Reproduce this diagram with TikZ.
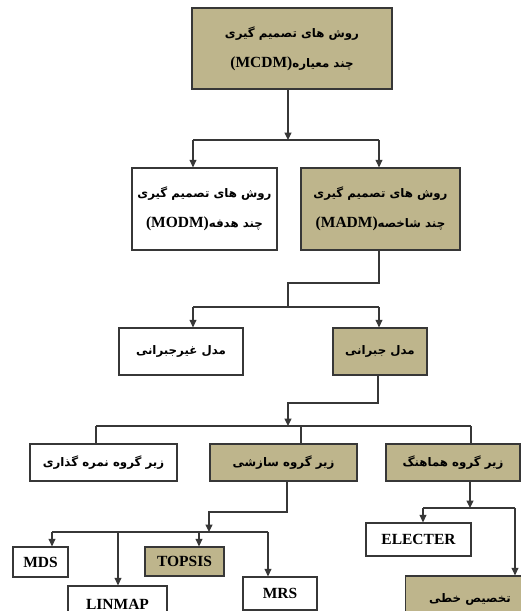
\documentclass[tikz,border=0pt]{standalone}
\usepackage{fontspec}
\setmainfont{Liberation Serif}
\newfontfamily\fa[Script=Arabic]{DejaVu Sans}
\TeXXeTstate=1
\usetikzlibrary{arrows.meta}
\definecolor{boxfill}{RGB}{190,181,140}
\definecolor{edgegray}{RGB}{55,55,55}
\newcommand{\fatext}[1]{{\fa\fontsize{11.8}{30}\selectfont\beginR #1\endR}}

\begin{document}
\begin{tikzpicture}[x=1pt,y=-1pt,
  every node/.style={font=\bfseries\fontsize{15.5}{30}\selectfont},
  box/.style={draw=edgegray, line width=1.3pt, fill=white, align=center, inner sep=0pt},
  gbox/.style={box, fill=boxfill},
  link/.style={draw=edgegray, line width=1.1pt},
  arr/.style={link, -{Triangle[length=7.5pt,width=7pt]}}]
 	\clip (0,0) rectangle (521,611);
 	\fill [white] (0,0) rectangle (521,611);
 	\node [gbox, minimum width=200, minimum height=81] (mcdm) at (292,48.5) {\fatext{روش های تصمیم گیری}\\(MCDM)\fatext{چند معیاره}};
 	\node [box, minimum width=145, minimum height=82] (modm) at (204.5,209) {\fatext{روش های تصمیم گیری}\\(MODM)\fatext{چند هدفه}};
 	\node [gbox, minimum width=159, minimum height=82] (madm) at (380.5,209) {\fatext{روش های تصمیم گیری}\\(MADM)\fatext{چند شاخصه}};
 	\node [box, minimum width=124, minimum height=47] (noncomp) at (181,351.5) {\fatext{مدل غیرجبرانی}};
 	\node [gbox, minimum width=94, minimum height=47] (comp) at (380,351.5) {\fatext{مدل جبرانی}};
 	\node [box, minimum width=147, minimum height=37] (score) at (103.5,462.5) {\fatext{زیر گروه نمره گذاری}};
 	\node [gbox, minimum width=147, minimum height=37] (compro) at (283.5,462.5) {\fatext{زیر گروه سازشی}};
 	\node [gbox, minimum width=134, minimum height=37] (coord) at (453,462.5) {\fatext{زیر گروه هماهنگ}};
 	\node [box, minimum width=55, minimum height=30] (mds) at (40.5,562) {MDS};
 	\node [gbox, minimum width=79, minimum height=29] (topsis) at (184.5,561.5) {TOPSIS};
 	\node [box, minimum width=99, minimum height=36] (linmap) at (117.5,604) {LINMAP};
 	\node [box, minimum width=74, minimum height=33] (mrs) at (280,593.5) {MRS};
 	\node [box, minimum width=105, minimum height=33] (electer) at (418.5,539.5) {ELECTER};
 	\node [gbox, minimum width=129, minimum height=46] (linear) at (470,599) {\fatext{تخصیص خطی}};
 	\coordinate (j1) at (288,140);
 	\draw [arr] (mcdm.south -| j1) -- (j1);
 	\draw [link] (193,140) -- (379,140);
 	\draw [arr] (193,140) -- (modm.north -| 193,0);
 	\draw [arr] (379,140) -- (madm.north -| 379,0);
 	\coordinate (j2) at (288,307);
 	\draw [link] (madm.south -| 379,0) -- (379,283) -| (j2);
 	\draw [link] (193,307) -- (379,307);
 	\draw [arr] (193,307) -- (noncomp.north -| 193,0);
 	\draw [arr] (379,307) -- (comp.north -| 379,0);
 	\coordinate (j3) at (288,426);
 	\draw [arr] (comp.south -| 378,0) -- (378,403) -| (j3);
 	\draw [link] (96,426) -- (471,426);
 	\draw [link] (96,426) -- (score.north -| 96,0);
 	\draw [link] (301,426) -- (compro.north -| 301,0);
 	\draw [link] (471,426) -- (coord.north -| 471,0);
 	\coordinate (j4) at (209,532);
 	\draw [arr] (compro.south -| 287,0) -- (287,512) -| (j4);
 	\draw [link] (52,532) -- (268,532);
 	\draw [arr] (52,532) -- (mds.north -| 52,0);
 	\draw [arr] (118,532) -- (linmap.north -| 118,0);
 	\draw [arr] (199,532) -- (topsis.north -| 199,0);
 	\draw [arr] (268,532) -- (mrs.north -| 268,0);
 	\coordinate (j5) at (470,508);
 	\draw [arr] (coord.south -| j5) -- (j5);
 	\draw [link] (423,508) -- (515,508);
 	\draw [arr] (423,508) -- (electer.north -| 423,0);
 	\draw [arr] (515,508) -- (linear.north -| 515,0);
\end{tikzpicture}
\end{document}
